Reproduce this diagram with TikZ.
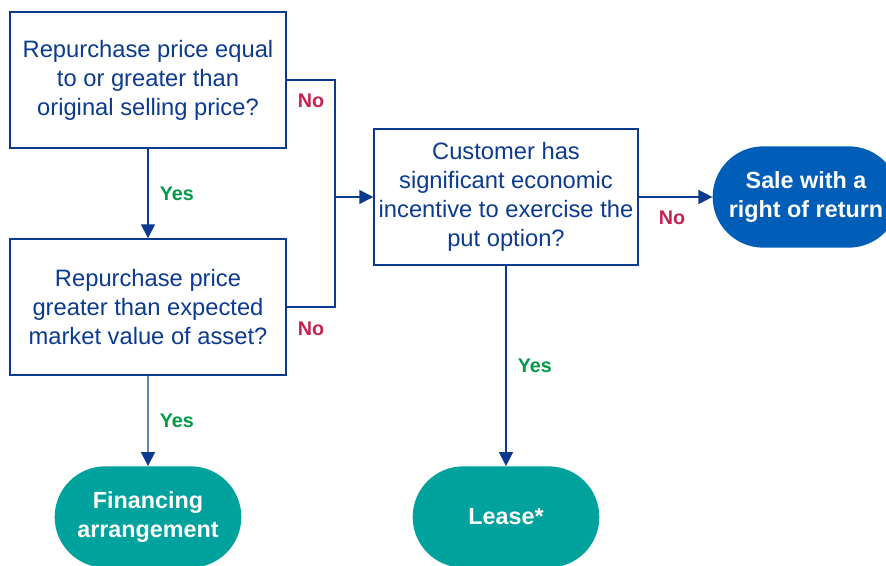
\documentclass[tikz,border=0pt]{standalone}
\usepackage{fontspec}
\setmainfont{Liberation Sans}
\usetikzlibrary{arrows.meta,shapes.misc}

\definecolor{navy}{HTML}{0B3A8F}
\definecolor{saleblue}{HTML}{005EB8}
\definecolor{teal}{HTML}{00A29D}
\definecolor{nored}{HTML}{C4224F}
\definecolor{yesgreen}{HTML}{009A44}

\tikzset{
  question/.style = {draw = navy, line width = 1.1pt, text = navy, align = center,
                     minimum height = 102pt, inner sep = 0pt,
                     font = \fontsize{17.8}{21.8}\selectfont},
  terminal/.style = {rounded rectangle, fill = #1, text = white, align = center,
                     minimum width = 140pt, minimum height = 76pt, inner sep = 0pt,
                     font = \bfseries\fontsize{17.5}{21.5}\selectfont},
  flow/.style     = {draw = navy, line width = 1.1pt,
                     -{Triangle[length = 10.5pt, width = 10.5pt]}},
  yes/.style      = {text = yesgreen, font = \bfseries\fontsize{14.8}{17}\selectfont},
  no/.style       = {text = nored, font = \bfseries\fontsize{14.8}{17}\selectfont},
}

\begin{document}
\begin{tikzpicture}[x = 0.75pt, y = -0.75pt]
  \useasboundingbox (0,0) rectangle (886,566);

  \node[question, minimum width = 207pt] at (148, 80)  (q1)
       {Repurchase price equal\\to or greater than\\original selling price?};
  \node[question, minimum width = 207pt] at (148, 307) (q2)
       {Repurchase price\\greater than expected\\market value of asset?};
  \node[question, minimum width = 198pt] at (506, 197) (q3)
       {Customer has\\significant economic\\incentive to exercise the\\put option?};

  \node[terminal = saleblue] at (806, 197) (sale) {Sale with a\\right of return};
  \node[terminal = teal]     at (148, 517) (fin)  {Financing\\arrangement};
  \node[terminal = teal]     at (506, 517) (lease) {Lease*};

  \coordinate (join) at (335, 197);

  \draw[flow] (q1) -- node[yes, anchor = west, xshift = 5pt] {Yes} (q2);
  \draw[flow] (q2) -- node[yes, anchor = west, xshift = 5pt] {Yes} (fin);
  \draw[flow] (q3) -- node[yes, anchor = west, xshift = 5pt] {Yes} (lease);
  \draw[draw = navy, line width = 1.1pt] (q1.east) -| (join);
  \draw[draw = navy, line width = 1.1pt] (q2.east) -| (join);
  \draw[flow] (join) -- (q3);
  \draw[flow] (q3) -- (sale);

  \node[no] at (311, 101) (no1) {No};
  \node[no] at (311, 329) (no2) {No};
  \node[no] at (672, 218) (no3) {No};
\end{tikzpicture}
\end{document}
